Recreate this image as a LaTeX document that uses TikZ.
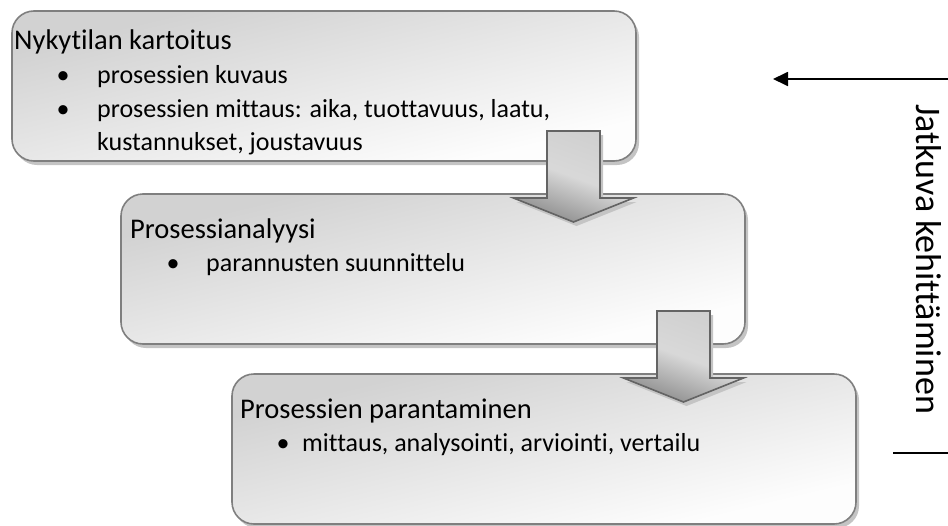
\documentclass[tikz,border=0pt]{standalone}
\usepackage{fontspec}
\setmainfont{Carlito}[Ligatures=NoCommon]
\usetikzlibrary{arrows.meta,shadows}

\definecolor{cardedge}{HTML}{7F7F7F}
\definecolor{cardtop}{HTML}{D2D2D2}
\definecolor{cardmid}{HTML}{F0F0F0}
\definecolor{cardbottom}{HTML}{FDFDFD}
\definecolor{cardshade}{HTML}{C4C4C4}
\definecolor{arrowedge}{HTML}{646464}
\definecolor{arrowdark}{HTML}{8C8C8C}
\definecolor{arrowlight}{HTML}{CFCFCF}

\tikzset{
  x=1pt, y=-1pt,
  stepcard/.style={fill=cardbottom, rounded corners=22pt,
    minimum width=624pt, minimum height=150pt, anchor=north west, inner sep=0pt,
    outer sep=0pt,
    drop shadow={shadow xshift=3pt, shadow yshift=-4pt, fill=cardshade, opacity=1}},
  cardoutline/.style={draw=cardedge, line width=1.6pt, rounded corners=22pt},
  cardtitle/.style={anchor=base west, inner sep=0pt, font=\fontsize{28.5}{34}\selectfont},
  carditem/.style={anchor=base west, inner sep=0pt, font=\fontsize{26}{34}\selectfont},
  bulletmark/.style={anchor=base, inner sep=0pt, font=\fontsize{26}{34}\selectfont},
  flowarrow/.style={draw=arrowedge, line width=1.6pt, line join=miter,
    left color=arrowlight, right color=arrowdark, middle color=arrowlight!80!white,
    shading angle=-20,
    drop shadow={shadow xshift=3pt, shadow yshift=-4pt, fill=cardshade, opacity=1}},
  downarrow/.pic={
    \draw[flowarrow] (-26.5,0) -- (26.5,0) -- (26.5,67) -- (60,67) -- (0,91)
      -- (-60,67) -- (-26.5,67) -- cycle;
  },
  loopline/.style={line width=1.8pt, black},
}

\begin{document}
\begin{tikzpicture}
  \useasboundingbox (0,0) rectangle (948,525);

  % process steps: shadowed card, diagonal grey-to-white fill, grey outline
  \node[stepcard] (k1) at (12,11) {};
  \node[stepcard] (k2) at (121,194) {};
  \node[stepcard] (k3) at (232,374) {};
  \foreach \k in {k1,k2,k3} {
    \begin{scope}
      \clip[rounded corners=22pt] (\k.north west) rectangle (\k.south east);
      \begin{scope}[transform canvas={shift={(\k.north west)}, xscale=4.2}]
        \shade[top color=cardtop, middle color=cardmid, bottom color=cardbottom,
          shading angle=45] (-2,-2) rectangle (152,152);
      \end{scope}
    \end{scope}
    \draw[cardoutline] (\k.north west) rectangle (\k.south east);
  }

  % step 1 text
  \node[cardtitle] (k1t) at (14,49) {Nykytilan kartoitus};
  \node[bulletmark] (k1b1) at (63,83) {•};
  \node[carditem] (k1i1) at (97,83) {prosessien kuvaus};
  \node[bulletmark] (k1b2) at (63,117) {•};
  \node[carditem] (k1i2) at (97,117) {prosessien mittaus: aika, tuottavuus, laatu,};
  \node[carditem] (k1i3) at (97,150) {kustannukset, joustavuus};

  % step 2 text
  \node[cardtitle] (k2t) at (130,238) {Prosessianalyysi};
  \node[bulletmark] (k2b1) at (173,271) {•};
  \node[carditem] (k2i1) at (206,271) {parannusten suunnittelu};

  % step 3 text
  \node[cardtitle] (k3t) at (240,418) {Prosessien parantaminen};
  \node[bulletmark] (k3b1) at (283,451) {•};
  \node[carditem] (k3i1) at (302,451) {mittaus, analysointi, arviointi, vertailu};

  % block arrows between the steps
  \pic at (573.5,131) {downarrow};
  \pic at (683.5,311) {downarrow};

  % continuous improvement loop
  \coordinate (loopin) at (948,79);
  \coordinate (looptip) at (773,79);
  \draw[loopline, -{Triangle[length=15pt, width=14pt]}] (loopin) -- (looptip);
  \coordinate (loopout) at (893,453);
  \coordinate (loopedge) at (948,453);
  \draw[loopline] (loopout) -- (loopedge);
  \node[rotate=-90, inner sep=0pt, font=\fontsize{36}{40}\selectfont] (loopcaption)
    at (929,259) {Jatkuva kehittäminen};
\end{tikzpicture}
\end{document}
